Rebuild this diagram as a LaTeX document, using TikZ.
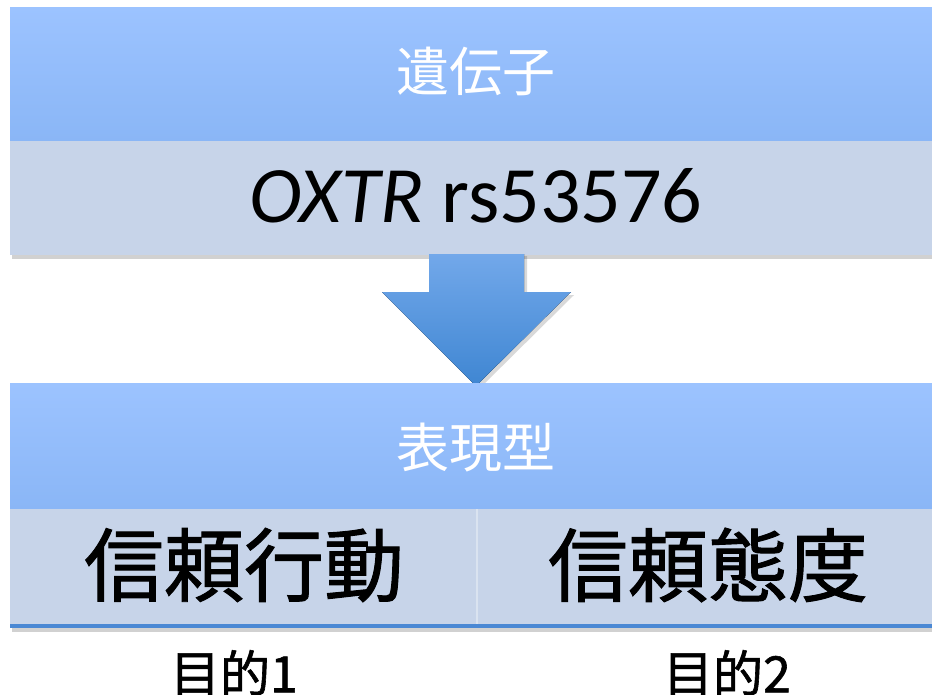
\documentclass[tikz,border=0pt]{standalone}
\usepackage{fontspec}
\setmainfont{Carlito}
\newfontfamily\cjk{Noto Sans CJK JP}
\newfontfamily\cjkb{Noto Sans CJK JP}[FakeBold=1.2]
\definecolor{hdtop}{HTML}{9CC3FF}
\definecolor{hdbot}{HTML}{8AB6F6}
\definecolor{body}{HTML}{C7D4E9}
\definecolor{arrtop}{HTML}{72A8EA}
\definecolor{arrbot}{HTML}{3F86D2}
\definecolor{lineblue}{HTML}{4A88D4}
\tikzset{
  header/.style={top color=hdtop, bottom color=hdbot, draw=none},
  bodybox/.style={fill=body, draw=none},
  shadowbox/.style={fill=black, opacity=0.18, draw=none},
  whitetxt/.style={text=white, font=\cjk\fontsize{53}{60}\selectfont, inner sep=0pt},
  bigtxt/.style={text=black, font=\cjkb\fontsize{80}{90}\selectfont, inner sep=0pt},
  labeltxt/.style={text=black, font=\cjkb\fontsize{50}{58}\selectfont, inner sep=0pt}
}
\begin{document}
\begin{tikzpicture}[x=1pt,y=-1pt]
\useasboundingbox (0,0) rectangle (932,694);
% top box
\fill[shadowbox] (12,10) rectangle (934,259);
\fill[header] (10,7) rectangle (932,141);
\fill[bodybox] (10,141) rectangle (932,255);
\node[whitetxt] (gene) at (476,71) {遺伝子};
\node[text=black, font=\fontsize{80}{90}\selectfont, inner sep=0pt, anchor=base] (oxtr) at (476,222) {\textit{OXTR} rs53576};
% arrow
\fill[black, opacity=0.15] (432,256) -- (527,256) -- (527,295) -- (574,295) -- (479,389) -- (385,295) -- (432,295) -- cycle;
\fill[top color=arrtop, bottom color=arrbot] (429,254) -- (524,254) -- (524,292) -- (571,292) -- (476,386) -- (382,292) -- (429,292) -- cycle;
% bottom box
\fill[shadowbox] (12,386) rectangle (934,632);
\fill[header] (10,383) rectangle (932,509);
\fill[bodybox] (10,509) rectangle (932,625);
\fill[lineblue] (10,624) rectangle (932,628);
\draw[white, opacity=0.35, line width=1.5pt] (477,509) -- (477,624);
\node[whitetxt] (pheno) at (476,448) {表現型};
\node[bigtxt] (trustact) at (244,565) {信頼行動};
\node[bigtxt] (trustatt) at (708,565) {信頼態度};
\node[labeltxt] (goal1) at (234,673) {目的1};
\node[labeltxt] (goal2) at (727,673) {目的2};
\end{tikzpicture}
\end{document}
